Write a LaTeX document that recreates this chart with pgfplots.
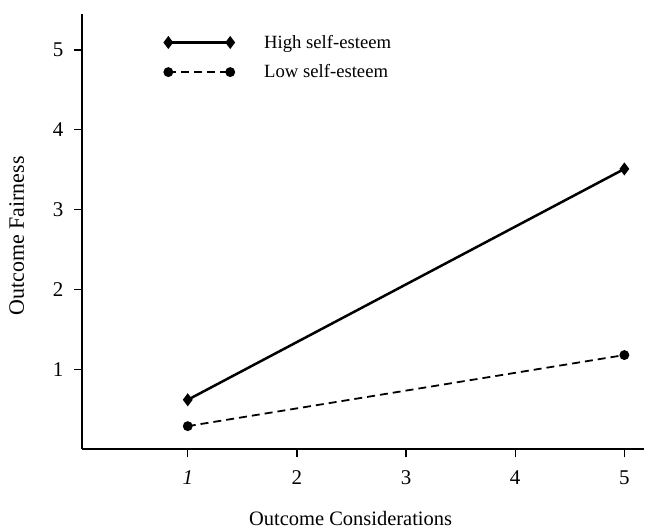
\documentclass[border=0pt]{standalone}
\usepackage{fontspec}
\setmainfont{Liberation Serif}
\usepackage{pgfplots}
\pgfplotsset{compat=1.18}

\begin{document}
\begin{tikzpicture}
\begin{axis}[
    scale only axis,
    width=563pt, height=436pt,
    xmin=0.03, xmax=5.18,
    ymin=0, ymax=5.45,
    axis x line=bottom, axis y line=left,
    axis line style={-, line width=2pt},
    tick align=outside,
    major tick length=8pt,
    tick style={line width=1.4pt, black},
    xtick={1,2,3,4,5},
    xticklabels={\textit{1},2,3,4,5},
    ytick={1,2,3,4,5},
    /pgf/number format/assume math mode=true,
    ticklabel style={font=\fontsize{21}{24}\selectfont},
    xticklabel style={yshift=-10pt},
    yticklabel style={xshift=-7pt},
    xlabel={Outcome Considerations},
    ylabel={Outcome Fairness},
    xlabel style={font=\fontsize{20.5}{24}\selectfont,
        at={(rel axis cs:0.478,0)}, anchor=center, yshift=-69pt},
    ylabel style={font=\fontsize{22}{26}\selectfont,
        at={(rel axis cs:-0.116,0.49)}, anchor=center},
    legend style={at={(rel axis cs:0.141,0.961)}, anchor=north west,
        draw=none, fill=none, font=\fontsize{18.7}{22}\selectfont,
        row sep=11pt, column sep=28pt},
    legend cell align=left,
    legend image code/.code={
        \draw[mark repeat=2, mark phase=1, #1] plot coordinates {(0pt,0pt) (31pt,0pt) (62pt,0pt)};
    },
    clip=false,
]
\addplot[black, line width=2.5pt, mark=diamond*, mark size=4.5pt, mark options={solid}]
    coordinates {(1,0.62) (5,3.51)};
\addlegendentry{High self-esteem}
\addplot[black, line width=1.8pt, dash pattern=on 8pt off 5pt, mark=*, mark size=4pt, mark options={solid}]
    coordinates {(1,0.29) (5,1.18)};
\addlegendentry{Low self-esteem}
\end{axis}
\path ([xshift=-82pt,yshift=-79pt]current axis.south west) rectangle ([yshift=14pt]current axis.north east);
\end{tikzpicture}
\end{document}
